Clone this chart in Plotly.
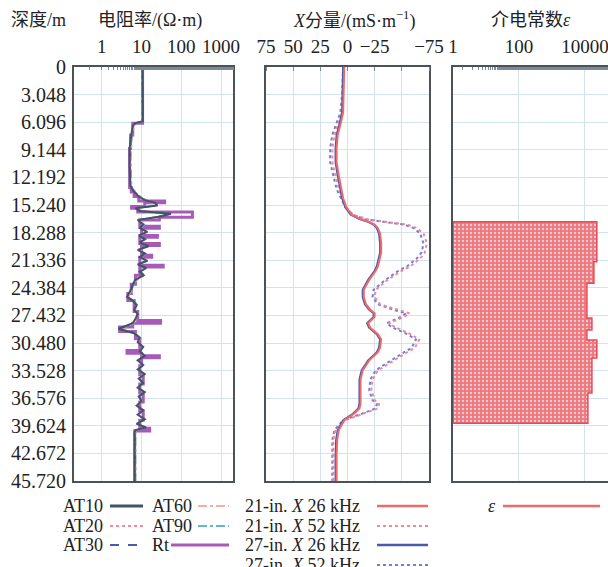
import plotly.graph_objects as go

W, H = 608, 567

# ---------------- data ----------------
depth_ticks = [0, 3.048, 6.096, 9.144, 12.192, 15.240, 18.288, 21.336, 24.384,
               27.432, 30.480, 33.528, 36.576, 39.624, 42.672, 45.720]
depth_labels = ["0", "3.048", "6.096", "9.144", "12.192", "15.240", "18.288", "21.336",
                "24.384", "27.432", "30.480", "33.528", "36.576", "39.624", "42.672", "45.720"]

res_depth = [0, 3.0, 6.0, 6.2, 6.5, 8.0, 9.0, 11.0, 13.0, 13.4, 13.8, 14.3, 14.7, 15.0, 15.3,
             15.6, 15.9, 16.2, 16.5, 16.9, 17.4, 17.8, 18.2, 18.6, 19.0, 19.4, 19.8, 20.2,
             20.6, 21.0, 21.4, 21.8, 22.2, 22.6, 23.0, 23.5, 24.0, 24.5, 25.0, 25.4, 25.8,
             26.3, 26.8, 27.3, 27.8, 28.3, 28.9, 29.4, 29.9, 30.4, 30.9, 31.4, 31.9, 32.4,
             32.9, 33.4, 33.9, 34.4, 34.9, 35.4, 35.9, 36.4, 36.9, 37.4, 37.9, 38.4, 38.9,
             39.4, 39.8, 40.1, 40.4, 45.72]
at10 = [10.6, 10.7, 10.8, 7.0, 6.0, 5.3, 5.0, 5.0, 5.2, 5.6, 6.5, 8.5, 12, 22, 25,
        7, 9, 55, 30, 8, 11, 9, 14, 8.5, 12, 9, 15, 8,
        12, 9, 14, 8, 13, 9, 11, 7, 6.0, 5.5, 4.8, 4.3, 6,
        7.5, 6.5, 8, 7, 6, 2.6, 6.5, 9, 8, 11, 9, 12, 8,
        11, 8, 12, 8.5, 11, 8, 12, 8.5, 10, 7.5, 11, 8, 12,
        7.5, 13, 7, 6.7, 6.7]
at20 = [10.5, 10.6, 10.7, 7.1, 6.1, 5.4, 5.1, 5.1, 5.3, 5.7, 6.6, 8.7, 12.5, 21, 24,
        7.2, 9.3, 52, 29, 8.2, 11.3, 9.2, 13.5, 8.7, 12.3, 9.2, 14.5, 8.2,
        12.2, 9.2, 13.6, 8.2, 12.6, 9.2, 11.2, 7.2, 6.1, 5.6, 4.9, 4.4, 6.1,
        7.6, 6.6, 8.1, 7.1, 6.1, 2.8, 6.6, 9.1, 8.1, 10.8, 9.1, 11.7, 8.1,
        10.8, 8.1, 11.6, 8.6, 10.8, 8.1, 11.7, 8.6, 10.1, 7.6, 10.8, 8.1, 11.7,
        7.6, 12.6, 7.1, 6.8, 6.8]
at30 = [10.4, 10.5, 10.6, 7.2, 6.2, 5.5, 5.2, 5.2, 5.4, 5.8, 6.7, 8.8, 12.8, 20, 23,
        7.4, 9.5, 50, 28, 8.4, 11.5, 9.4, 13.2, 8.9, 12.5, 9.4, 14.2, 8.4,
        12.4, 9.4, 13.3, 8.4, 12.4, 9.4, 11.4, 7.4, 6.2, 5.7, 5.0, 4.5, 6.2,
        7.7, 6.7, 8.2, 7.2, 6.2, 3.0, 6.7, 9.2, 8.2, 10.6, 9.2, 11.5, 8.2,
        10.6, 8.2, 11.4, 8.7, 10.6, 8.2, 11.5, 8.7, 10.2, 7.7, 10.6, 8.2, 11.5,
        7.7, 12.4, 7.2, 6.9, 6.9]
at60 = [10.3, 10.4, 10.5, 7.3, 6.3, 5.6, 5.3, 5.3, 5.5, 5.9, 6.8, 9.0, 13.0, 19, 22,
        7.6, 9.7, 48, 27, 8.6, 11.7, 9.6, 13.0, 9.1, 12.7, 9.6, 14.0, 8.6,
        12.6, 9.6, 13.1, 8.6, 12.2, 9.6, 11.6, 7.6, 6.3, 5.8, 5.1, 4.6, 6.3,
        7.8, 6.8, 8.3, 7.3, 6.3, 3.2, 6.8, 9.3, 8.3, 10.4, 9.3, 11.3, 8.3,
        10.4, 8.3, 11.2, 8.8, 10.4, 8.3, 11.3, 8.8, 10.3, 7.8, 10.4, 8.3, 11.3,
        7.8, 12.2, 7.3, 7.0, 7.0]
at90 = [10.2, 10.3, 10.4, 7.4, 6.4, 5.7, 5.4, 5.4, 5.6, 6.0, 6.9, 9.2, 13.2, 18, 21,
        7.8, 9.9, 46, 26, 8.8, 11.9, 9.8, 12.8, 9.3, 12.9, 9.8, 13.8, 8.8,
        12.8, 9.8, 12.9, 8.8, 12.0, 9.8, 11.8, 7.8, 6.4, 5.9, 5.2, 4.7, 6.4,
        7.9, 6.9, 8.4, 7.4, 6.4, 3.4, 6.9, 9.4, 8.4, 10.2, 9.4, 11.1, 8.4,
        10.2, 8.4, 11.0, 8.9, 10.2, 8.4, 11.1, 8.9, 10.4, 7.9, 10.2, 8.4, 11.1,
        7.9, 12.0, 7.4, 7.1, 7.1]

rt_depth = [0, 6.2, 7.5, 9.0, 13.3, 13.8, 14.3, 14.8, 15.0, 15.4, 15.6, 16.0, 16.6, 16.9,
            17.6, 17.8, 18.6, 18.8, 19.5, 19.7, 20.8, 21.0, 21.9, 22.1, 23.0, 24.0, 25.0,
            25.8, 27.0, 28.0, 28.3, 28.7, 29.2, 30.0, 31.3, 31.6, 31.9, 32.1, 33.0, 34.0,
            35.0, 36.0, 37.0, 38.0, 39.0, 39.9, 40.2, 45.72]
rt = [10.6, 6.0, 5.3, 5.0, 5.5, 6.5, 8.5, 38, 12, 5.6, 8, 190, 28, 9,
      28, 10, 25, 9, 28, 10, 18, 9, 35, 9, 7, 5.5, 4.5,
      6.5, 8, 30, 6, 2.8, 7, 9, 4.3, 10, 28, 10, 9, 11,
      9, 11, 9, 11, 9, 16, 6.7, 6.7]

x_depth = [0, 3, 5, 6.1, 7.5, 9, 10.5, 12, 13.5, 14.5, 15.5, 16.3, 16.8, 17.1, 17.4, 17.8,
           18.4, 19.5, 20.5, 21.0, 22.0, 22.5, 23.5, 24.6, 25.4, 26.2, 26.8, 27.2, 27.6,
           28.3, 28.8, 29.5, 30.1, 31.0, 31.5, 32.4, 33.5, 34.5, 35.7, 36.8, 37.2, 37.7,
           38.3, 39.0, 40.1, 41.2, 43.0, 45.72]
x21_26 = [3, 3.5, 4, 6, 9, 10, 10, 8, 6, 4, 1, -4, -12, -20, -25, -28,
          -30, -31, -31, -30, -28, -26, -20, -15, -15, -17, -21, -25, -25,
          -19, -21, -28, -31, -30, -28, -20, -14, -12, -12, -12, -12, -11,
          -6, 3, 8, 9.5, 10, 10]
x21_52 = [3, 4, 5, 8, 12, 14, 14, 11, 8, 5, 1, -5, -18, -35, -55, -64,
          -70, -73, -71, -68, -58, -50, -37, -26, -25, -30, -45, -57, -52,
          -38, -45, -58, -66, -62, -55, -43, -28, -23, -22, -25, -29, -28,
          -15, 2, 11, 13, 13, 13]
x27_26 = [4, 4.5, 5, 7, 10, 11, 11, 9, 7, 5, 2, -3, -11, -19, -24, -27,
          -29, -30, -30, -29, -27, -25, -19, -14, -14, -16, -20, -24, -24,
          -18, -20, -27, -30, -29, -27, -19, -13, -11, -11, -11, -11, -10,
          -5, 4, 9, 10.5, 11, 11]
x27_52 = [4, 5, 6.5, 10, 14, 16, 16, 13, 10, 6, 2, -4, -16, -33, -52, -61,
          -67, -70, -68, -65, -55, -47, -35, -24, -23, -28, -42, -54, -49,
          -36, -42, -55, -63, -59, -52, -40, -26, -21, -20, -23, -27, -26,
          -13, 4, 12, 14, 14, 14]

eps_depth = [17.08, 21.50, 23.89, 27.72, 29.04, 30.15, 32.14, 36.0, 39.35]
eps_value = [23000, 18700, 11500, 16300, 11500, 23000, 16300, 12300]

res_tickvals = [1, 10, 100, 1000]
res_ticktext = ["1", "10", "100", "1000"]
x_tickvals = [75, 50, 25, 0, -25, -75]
x_ticktext = ["75", "50", "25", "0", "−25", "−75"]
eps_tickvals = [1, 100, 10000]
eps_ticktext = ["1", "100", "10000"]
eps_extra_grid = [10, 1000]

# ---------------- layout helpers ----------------
SERIF = "Liberation Serif, Times New Roman, Noto Sans CJK SC, serif"
FRAME = "#4b5359"
GRID = "#d3e2f1"
TXT = "#222"

def px(x):
    return x / W

def py(y):
    return 1 - y / H

Y0, Y1 = py(481), py(67)
dom1 = [px(74), px(233)]
dom2 = [px(266), px(429)]
dom3 = [px(453), 1.0]

fig = go.Figure()

fig.add_trace(go.Scatter(x=rt, y=rt_depth, mode="lines", line=dict(color="#a65bb8", width=3, shape="vh"),
                         xaxis="x", yaxis="y", showlegend=False))
for vals, col, dash, wdt in [(at90, "#5fbcbc", "dashdot", 1.5), (at60, "#f4b0a0", "dashdot", 1.5),
                             (at30, "#4a5ab0", "dash", 1.5), (at20, "#f08aa0", "dot", 1.5),
                             (at10, "#3f5565", "solid", 2)]:
    fig.add_trace(go.Scatter(x=vals, y=res_depth, mode="lines", line=dict(color=col, width=wdt, dash=dash),
                             xaxis="x", yaxis="y", showlegend=False))

for vals, col, dash in [(x27_52, "#6f7fd6", "dot"), (x21_52, "#f0889a", "dot"),
                        (x27_26, "#4b59a8", "solid"), (x21_26, "#ef6b6b", "solid")]:
    fig.add_trace(go.Scatter(x=vals, y=x_depth, mode="lines", line=dict(color=col, width=2, dash=dash),
                             xaxis="x2", yaxis="y2", showlegend=False))

ex, ey = [1, eps_value[0]], [eps_depth[0], eps_depth[0]]
for i, v in enumerate(eps_value):
    ex += [v, v]
    ey += [eps_depth[i], eps_depth[i + 1]]
ex += [1, 1]
ey += [eps_depth[-1], eps_depth[0]]
fig.add_trace(go.Scatter(x=ex, y=ey, mode="lines", fill="toself", fillcolor="#f07f85",
                         fillpattern=dict(shape=".", bgcolor="#ee7880", fgcolor="#fccfd3", size=4, solidity=0.25),
                         line=dict(color="#e94a55", width=1.5), xaxis="x3", yaxis="y3", showlegend=False))

tickfont = dict(family=SERIF, size=19, color=TXT)
common_x = dict(side="top", showgrid=True, gridcolor=GRID, gridwidth=1, showline=True, mirror=True,
                linecolor=FRAME, linewidth=2, ticks="", tickfont=tickfont, zeroline=False, automargin=False,
                ticklabelstandoff=4, ticklabeloverflow="allow")
common_y = dict(range=[45.72, 0], tickvals=depth_ticks, showgrid=True, gridcolor=GRID, gridwidth=1,
                showline=True, linecolor=FRAME, linewidth=2, zeroline=False, automargin=False,
                domain=[Y0, Y1], ticks="", ticklen=0)
minor_log = dict(ticks="inside", ticklen=3, tickcolor="#7a8a9a", showgrid=False)

fig.update_layout(
    width=W, height=H, margin=dict(l=0, r=0, t=0, b=0),
    paper_bgcolor="white", plot_bgcolor="white", template="none",
    xaxis=dict(common_x, type="log", range=[-0.7, 3.3], domain=dom1, anchor="y",
               tickvals=res_tickvals, ticktext=res_ticktext, minor=minor_log),
    yaxis=dict(common_y, anchor="x", mirror=True, ticktext=depth_labels,
               tickfont=dict(family=SERIF, size=20, color=TXT),
               showticklabels=True, ticklabelstandoff=2),
    xaxis2=dict(common_x, range=[75, -75], domain=dom2, anchor="y2", tickvals=x_tickvals, ticktext=x_ticktext,
                minor=dict(dtick=25, tick0=0, showgrid=True, gridcolor=GRID, ticks="inside", ticklen=4,
                           tickcolor="#7a8a9a")),
    yaxis2=dict(common_y, anchor="x2", mirror=True, showticklabels=False),
    xaxis3=dict(common_x, type="log", range=[0, 4.7], domain=dom3, anchor="y3",
                tickvals=eps_tickvals, ticktext=eps_ticktext, minor=minor_log),
    xaxis4=dict(type="log", range=[0, 4.7], overlaying="x3", anchor="y3", side="top", tickvals=eps_extra_grid,
                showticklabels=False, showgrid=True, gridcolor=GRID, showline=False, ticks="",
                zeroline=False, automargin=False),
    yaxis3=dict(common_y, anchor="x3", mirror=False, showticklabels=False),
    font=dict(family=SERIF, color=TXT),
)

heads = [(38, "深度/m"), (150, "电阻率/(Ω·m)"), (354, "<i>X</i>分量/(mS·m<sup>−1</sup>)"), (531, "介电常数<i>ε</i>")]
for x, t in heads:
    fig.add_annotation(x=px(x), y=py(20), xref="paper", yref="paper", text=t, showarrow=False,
                       font=dict(family=SERIF, size=18, color=TXT), xanchor="center", yanchor="middle")

leg = [
    (61, 110, 143, 506, "AT10", "#3f5565", "solid", 3),
    (61, 110, 143, 526, "AT20", "#f08aa0", "dot", 2),
    (61, 110, 143, 545, "AT30", "#4a5ab0", "dash", 2),
    (150, 198, 229, 506, "AT60", "#f4b0a0", "dashdot", 2),
    (150, 198, 229, 526, "AT90", "#5fbcbc", "dashdot", 2),
    (150, 171, 229, 545, "Rt", "#a65bb8", "solid", 3),
    (243, 377, 428, 506, "21-in. <i>X</i> 26 kHz", "#ef6b6b", "solid", 2.5),
    (243, 377, 428, 526, "21-in. <i>X</i> 52 kHz", "#f0889a", "dot", 2),
    (243, 377, 428, 545, "27-in. <i>X</i> 26 kHz", "#4b59a8", "solid", 2.5),
    (243, 377, 428, 565, "27-in. <i>X</i> 52 kHz", "#6f7fd6", "dot", 2),
    (486, 503, 600, 506, "<i>ε</i>", "#ef6b6b", "solid", 2.5),
]
for tx, l0, l1, y, t, col, dash, wdt in leg:
    fig.add_annotation(x=px(tx), y=py(y), xref="paper", yref="paper", text=t, showarrow=False,
                       font=dict(family=SERIF, size=18, color=TXT), xanchor="left", yanchor="middle")
    fig.add_shape(type="line", xref="paper", yref="paper", x0=px(l0), x1=px(l1), y0=py(y), y1=py(y),
                  line=dict(color=col, width=wdt, dash=dash))

fig.write_html("out.html", config={"displayModeBar": False},
               post_script="document.body.style.margin='0';document.body.style.overflow='hidden';")
